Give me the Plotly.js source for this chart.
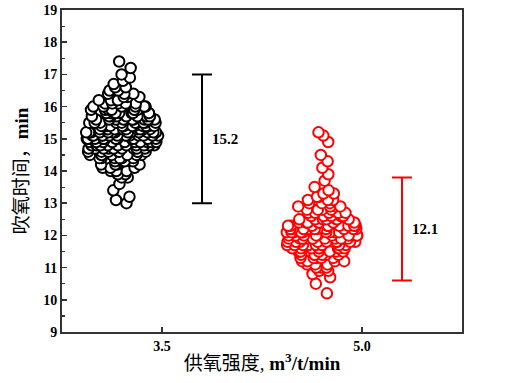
<!DOCTYPE html>
<html>
<head>
<meta charset="utf-8">
<script src="https://cdn.plot.ly/plotly-3.0.1.min.js"></script>
<style>html,body{margin:0;padding:0;background:#fff;}#chart{width:507px;height:383px;}</style>
</head>
<body>
<div id="chart"></div>
<script>
// Categories (oxygen supply intensity) and cluster positions
var categoryTicks = [3.5, 5.0];
var categoryLabels = ['3.5', '5.0'];
var clusterX = [3.2, 4.7];
var yTicks = [9, 10, 11, 12, 13, 14, 15, 16, 17, 18, 19];

// Blowing time samples, min
var timeAt35 = [
  13.0,13.1,13.2,13.4,13.6,13.8,13.8,13.9,13.9,
  14.0,14.0,14.0,14.1,14.1,14.1,14.2,14.2,14.2,14.2,14.3,14.3,14.3,14.3,
  14.4,14.4,14.4,14.4,14.4,14.4,14.5,14.5,14.5,14.5,14.5,14.5,14.5,
  14.6,14.6,14.6,14.6,14.6,14.6,14.6,14.6,14.7,14.7,14.7,14.7,14.7,14.7,14.7,14.7,14.7,
  14.8,14.8,14.8,14.8,14.8,14.8,14.8,14.8,14.8,14.8,
  14.9,14.9,14.9,14.9,14.9,14.9,14.9,14.9,14.9,14.9,14.9,
  15.0,15.0,15.0,15.0,15.0,15.0,15.0,15.0,15.0,15.0,15.0,15.0,15.0,
  15.1,15.1,15.1,15.1,15.1,15.1,15.1,15.1,15.1,15.1,15.1,15.1,15.1,
  15.2,15.2,15.2,15.2,15.2,15.2,15.2,15.2,15.2,15.2,15.2,15.2,15.2,15.2,
  15.3,15.3,15.3,15.3,15.3,15.3,15.3,15.3,15.3,15.3,15.3,15.3,15.3,
  15.4,15.4,15.4,15.4,15.4,15.4,15.4,15.4,15.4,15.4,15.4,15.4,
  15.5,15.5,15.5,15.5,15.5,15.5,15.5,15.5,15.5,15.5,15.5,
  15.6,15.6,15.6,15.6,15.6,15.6,15.6,15.6,15.6,15.6,
  15.7,15.7,15.7,15.7,15.7,15.7,15.7,15.7,
  15.8,15.8,15.8,15.8,15.8,15.8,15.8,
  15.9,15.9,15.9,15.9,15.9,15.9,
  16.0,16.0,16.0,16.0,16.0,16.0,
  16.1,16.1,16.1,16.1,16.1,16.2,16.2,16.2,16.2,
  16.3,16.3,16.3,16.4,16.4,16.4,16.5,16.5,16.6,16.6,
  16.7,16.8,16.9,17.0,17.2,17.4
];
var timeAt50 = [
  10.2,10.5,10.7,10.8,10.9,10.9,
  11.0,11.0,11.0,11.1,11.1,11.1,11.2,11.2,11.2,11.2,
  11.3,11.3,11.3,11.3,11.3,11.4,11.4,11.4,11.4,11.4,11.4,
  11.5,11.5,11.5,11.5,11.5,11.5,11.5,11.6,11.6,11.6,11.6,11.6,11.6,11.6,11.6,
  11.7,11.7,11.7,11.7,11.7,11.7,11.7,11.7,11.7,
  11.8,11.8,11.8,11.8,11.8,11.8,11.8,11.8,11.8,
  11.9,11.9,11.9,11.9,11.9,11.9,11.9,11.9,11.9,11.9,
  12.0,12.0,12.0,12.0,12.0,12.0,12.0,12.0,12.0,12.0,12.0,
  12.1,12.1,12.1,12.1,12.1,12.1,12.1,12.1,12.1,12.1,12.1,
  12.2,12.2,12.2,12.2,12.2,12.2,12.2,12.2,12.2,12.2,
  12.3,12.3,12.3,12.3,12.3,12.3,12.3,12.3,12.3,
  12.4,12.4,12.4,12.4,12.4,12.4,12.4,12.4,
  12.5,12.5,12.5,12.5,12.5,12.5,12.5,
  12.6,12.6,12.6,12.6,12.6,12.6,12.7,12.7,12.7,12.7,12.7,
  12.8,12.8,12.8,12.8,12.9,12.9,12.9,12.9,
  13.0,13.0,13.0,13.1,13.1,13.1,13.2,13.2,13.3,13.3,
  13.4,13.5,13.7,13.9,14.1,14.3,14.5,14.9,15.1,15.2
];

// Range bars and their mean labels
var barX = [3.8, 5.3];
var barLow = [13.0, 10.6];
var barHigh = [17.0, 13.8];
var meanLabels = ['15.2', '12.1'];
var colors = ['#000000', '#ff0000'];

var serif = 'Liberation Serif, Times New Roman, serif';
var cjk = 'Liberation Serif, Noto Sans CJK SC, serif';

function swarm(yv, xc, color) {
  return {
    type: 'box', y: yv, x0: xc, width: 0.56,
    boxpoints: 'all', jitter: 1, pointpos: 0,
    fillcolor: 'rgba(0,0,0,0)', line: {width: 0, color: 'rgba(0,0,0,0)'},
    marker: {size: 10.5, color: '#ffffff', line: {color: color, width: 2}},
    showlegend: false, hoverinfo: 'y'
  };
}

var traces = [swarm(timeAt35, clusterX[0], colors[0]), swarm(timeAt50, clusterX[1], colors[1])];

for (var i = 0; i < barX.length; i++) {
  var mid = (barLow[i] + barHigh[i]) / 2;
  traces.push({
    type: 'scatter', mode: 'markers', x: [barX[i]], y: [mid],
    marker: {size: 0.1, color: 'rgba(0,0,0,0)'},
    error_y: {type: 'data', array: [barHigh[i] - mid], arrayminus: [mid - barLow[i]],
              color: colors[i], thickness: 2, width: 10, symmetric: false},
    showlegend: false, hoverinfo: 'skip'
  });
}

var annotations = barX.map(function (bx, i) {
  return {
    x: bx, y: (barLow[i] + barHigh[i]) / 2, xref: 'x', yref: 'y',
    text: '<b>' + meanLabels[i] + '</b>', showarrow: false,
    xanchor: 'left', xshift: 8,
    font: {family: serif, size: 15, color: '#000'}
  };
});

var layout = {
  width: 507, height: 383,
  margin: {l: 62, r: 45, t: 10, b: 51},
  paper_bgcolor: '#fff', plot_bgcolor: '#fff',
  showlegend: false,
  boxmode: 'overlay',
  xaxis: {
    range: [2.75, 5.75], tickmode: 'array', tickvals: categoryTicks,
    ticktext: categoryLabels.map(function (t) { return '<b>' + t + '</b>'; }),
    ticks: 'inside', ticklen: 5, tickwidth: 1.5, tickcolor: '#333',
    showline: true, mirror: true, linecolor: '#333', linewidth: 2,
    showgrid: false, zeroline: false,
    tickfont: {family: serif, size: 14, color: '#000'},
    title: {text: '供氧强度, <b>m<sup>3</sup>/t/min</b>', standoff: 4,
            font: {family: cjk, size: 19, color: '#000'}}
  },
  yaxis: {
    range: [9, 19], tickmode: 'array', tickvals: yTicks,
    ticktext: yTicks.map(function (t) { return '<b>' + t + '</b>'; }),
    ticks: 'inside', ticklen: 5, tickwidth: 1.5, tickcolor: '#333',
    minor: {dtick: 0.5, tick0: 9, ticks: 'inside', ticklen: 3, tickwidth: 1.2, tickcolor: '#333', showgrid: false},
    showline: true, mirror: true, linecolor: '#333', linewidth: 2,
    showgrid: false, zeroline: false,
    tickfont: {family: serif, size: 14, color: '#000'},
    title: {text: '吹氧时间，<b>min</b>', standoff: 10,
            font: {family: cjk, size: 19, color: '#000'}}
  },
  annotations: annotations
};

Plotly.newPlot('chart', traces, layout, {displayModeBar: false, staticPlot: true});
</script>
</body>
</html>
